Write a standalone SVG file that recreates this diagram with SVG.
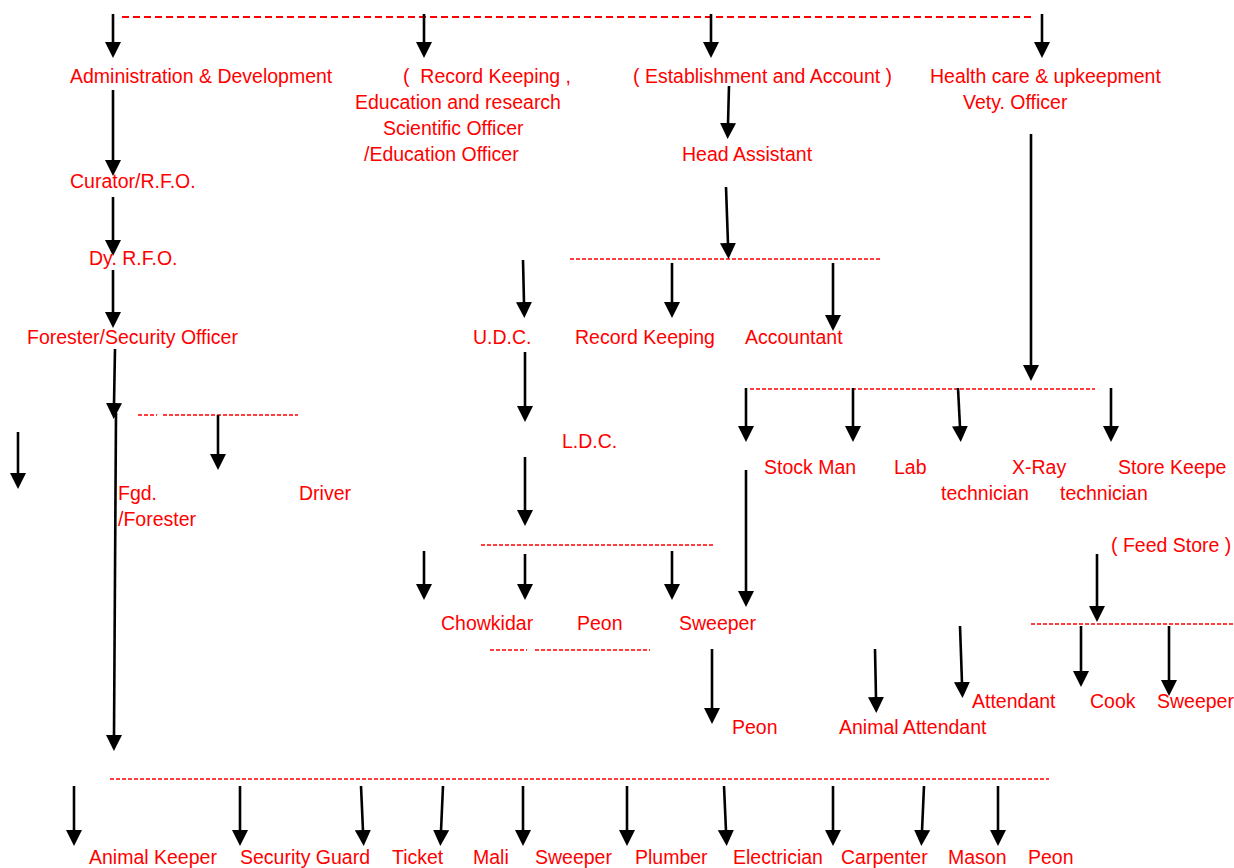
<svg xmlns="http://www.w3.org/2000/svg" width="1234" height="868" viewBox="0 0 1234 868">
<style>
  text { font-family: "Liberation Sans", Arial, sans-serif; font-size: 19.5px; fill: #ff0000; }
  .arr { stroke: #000; stroke-width: 2.6; fill: none; marker-end: url(#ah); }
  .dash { stroke: #ff0000; stroke-width: 1.3; stroke-dasharray: 4 2; fill: none; }
  .dashTop { stroke: #ff0000; stroke-width: 2; stroke-dasharray: 7 4; fill: none; }
</style>
<defs>
  <marker id="ah" markerUnits="userSpaceOnUse" markerWidth="16" markerHeight="16" refX="1" refY="8" orient="auto">
    <path d="M0,0 L16,8 L0,16 z" fill="#000"/>
  </marker>
</defs>
<rect width="1234" height="868" fill="#fff"/>
<g id="connectors">
  <line class="dashTop" x1="122" y1="17" x2="1035" y2="17"/>
  <line class="dash" x1="138" y1="415" x2="157" y2="415"/>
  <line class="dash" x1="163" y1="415" x2="298" y2="415"/>
  <line class="dash" x1="570" y1="259" x2="882" y2="259"/>
  <line class="dash" x1="750" y1="389" x2="1095" y2="389"/>
  <line class="dash" x1="481" y1="545" x2="714" y2="545"/>
  <line class="dash" x1="490" y1="650" x2="527" y2="650"/>
  <line class="dash" x1="535" y1="650" x2="650" y2="650"/>
  <line class="dash" x1="1031" y1="624" x2="1234" y2="624"/>
  <line class="dash" x1="110" y1="779" x2="1049" y2="779"/>

  <line class="arr" x1="113" y1="14" x2="113" y2="43"/>
  <line class="arr" x1="424" y1="14" x2="424" y2="43"/>
  <line class="arr" x1="711" y1="14" x2="711" y2="43"/>
  <line class="arr" x1="1042" y1="14" x2="1042" y2="43"/>
  <line class="arr" x1="113" y1="90" x2="113" y2="161"/>
  <line class="arr" x1="113" y1="197" x2="113" y2="241"/>
  <line class="arr" x1="113" y1="270" x2="113" y2="313"/>
  <line class="arr" x1="115" y1="349" x2="114" y2="404"/>
  <line class="arr" x1="116" y1="413" x2="114" y2="736"/>
  <line class="arr" x1="218" y1="415" x2="218" y2="455"/>
  <line class="arr" x1="18" y1="432" x2="18" y2="474"/>
  <line class="arr" x1="729" y1="86" x2="728" y2="124"/>
  <line class="arr" x1="726" y1="187" x2="728" y2="244"/>
  <line class="arr" x1="672" y1="263" x2="672" y2="303"/>
  <line class="arr" x1="833" y1="263" x2="833" y2="316"/>
  <line class="arr" x1="523" y1="260" x2="524" y2="303"/>
  <line class="arr" x1="525" y1="352" x2="525" y2="407"/>
  <line class="arr" x1="525" y1="457" x2="525" y2="511"/>
  <line class="arr" x1="1031" y1="134" x2="1031" y2="366"/>
  <line class="arr" x1="746" y1="388" x2="746" y2="427"/>
  <line class="arr" x1="853" y1="388" x2="853" y2="427"/>
  <line class="arr" x1="958" y1="388" x2="960" y2="427"/>
  <line class="arr" x1="1111" y1="388" x2="1111" y2="427"/>
  <line class="arr" x1="746" y1="470" x2="746" y2="592"/>
  <line class="arr" x1="424" y1="551" x2="424" y2="585"/>
  <line class="arr" x1="525" y1="554" x2="525" y2="585"/>
  <line class="arr" x1="672" y1="551" x2="672" y2="585"/>
  <line class="arr" x1="712" y1="649" x2="712" y2="709"/>
  <line class="arr" x1="875" y1="649" x2="876" y2="698"/>
  <line class="arr" x1="960" y1="626" x2="962" y2="683"/>
  <line class="arr" x1="1097" y1="554" x2="1097" y2="607"/>
  <line class="arr" x1="1081" y1="626" x2="1081" y2="672"/>
  <line class="arr" x1="1169" y1="626" x2="1169" y2="681"/>

  <line class="arr" x1="74" y1="786" x2="74" y2="831"/>
  <line class="arr" x1="240" y1="786" x2="240" y2="831"/>
  <line class="arr" x1="361" y1="786" x2="363" y2="831"/>
  <line class="arr" x1="443" y1="786" x2="441" y2="831"/>
  <line class="arr" x1="523" y1="786" x2="523" y2="831"/>
  <line class="arr" x1="627" y1="786" x2="627" y2="831"/>
  <line class="arr" x1="724" y1="786" x2="726" y2="831"/>
  <line class="arr" x1="833" y1="786" x2="833" y2="831"/>
  <line class="arr" x1="924" y1="786" x2="922" y2="831"/>
  <line class="arr" x1="998" y1="786" x2="998" y2="831"/>
</g>

<g id="admin"><text x="70" y="83">Administration &amp; Development</text></g>
<g id="record-edu">
  <text x="403" y="83" xml:space="preserve">(  Record Keeping ,</text>
  <text x="355" y="109">Education and research</text>
  <text x="383" y="135">Scientific Officer</text>
  <text x="364" y="161">/Education Officer</text>
</g>
<g id="establishment"><text x="633" y="83">( Establishment and Account )</text></g>
<g id="health">
  <text x="930" y="83">Health care &amp; upkeepment</text>
  <text x="963" y="109">Vety. Officer</text>
</g>
<g id="head-assistant"><text x="682" y="161">Head Assistant</text></g>
<g id="curator"><text x="70" y="188">Curator/R.F.O.</text></g>
<g id="dy-rfo"><text x="89" y="265">Dy. R.F.O.</text></g>
<g id="forester-security"><text x="27" y="344">Forester/Security Officer</text></g>
<g id="udc"><text x="473" y="344">U.D.C.</text></g>
<g id="record-keeping"><text x="575" y="344">Record Keeping</text></g>
<g id="accountant"><text x="745" y="344">Accountant</text></g>
<g id="ldc"><text x="562" y="448">L.D.C.</text></g>
<g id="stock-man"><text x="764" y="474">Stock Man</text></g>
<g id="lab-technician">
  <text x="894" y="474">Lab</text>
  <text x="941" y="500">technician</text>
</g>
<g id="xray-technician">
  <text x="1012" y="474">X-Ray</text>
  <text x="1060" y="500">technician</text>
</g>
<g id="store-keeper"><text x="1118" y="474">Store Keepe</text></g>
<g id="fgd-forester">
  <text x="118" y="500">Fgd.</text>
  <text x="118" y="526">/Forester</text>
</g>
<g id="driver"><text x="299" y="500">Driver</text></g>
<g id="feed-store"><text x="1111" y="552">( Feed Store )</text></g>
<g id="chowkidar"><text x="441" y="630">Chowkidar</text></g>
<g id="peon-1"><text x="577" y="630">Peon</text></g>
<g id="sweeper-1"><text x="679" y="630">Sweeper</text></g>
<g id="attendant"><text x="972" y="708">Attendant</text></g>
<g id="cook"><text x="1090" y="708">Cook</text></g>
<g id="sweeper-2"><text x="1157" y="708">Sweeper</text></g>
<g id="peon-2"><text x="732" y="734">Peon</text></g>
<g id="animal-attendant"><text x="839" y="734">Animal Attendant</text></g>

<g id="animal-keeper"><text x="89" y="864">Animal Keeper</text></g>
<g id="security-guard"><text x="240" y="864">Security Guard</text></g>
<g id="ticket"><text x="392" y="864">Ticket</text></g>
<g id="mali"><text x="473" y="864">Mali</text></g>
<g id="sweeper-3"><text x="535" y="864">Sweeper</text></g>
<g id="plumber"><text x="635" y="864">Plumber</text></g>
<g id="electrician"><text x="733" y="864">Electrician</text></g>
<g id="carpenter"><text x="841" y="864">Carpenter</text></g>
<g id="mason"><text x="948" y="864">Mason</text></g>
<g id="peon-3"><text x="1028" y="864">Peon</text></g>
</svg>
